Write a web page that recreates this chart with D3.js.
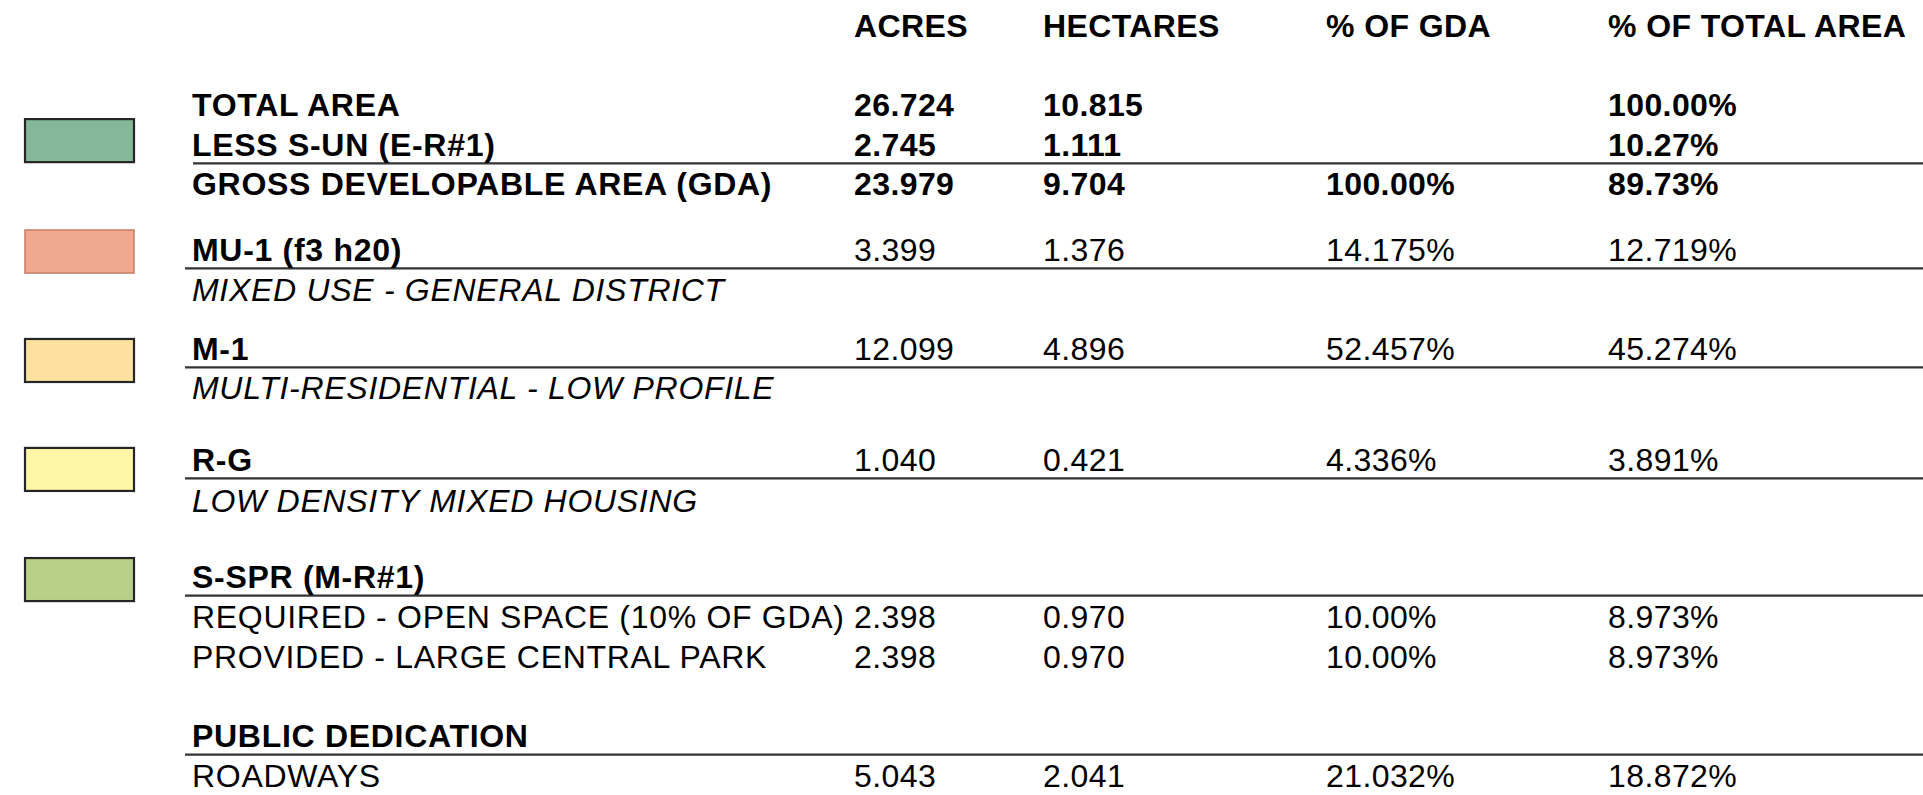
<!DOCTYPE html>
<html>
<head>
<meta charset="utf-8">
<script src="https://cdn.jsdelivr.net/npm/d3@7"></script>
<style>
  body { margin: 0; background: #fff; }
  svg text { font-family: "Liberation Sans", Arial, sans-serif; font-size: 32px; letter-spacing: 0.4px; fill: #000; }
  svg text.label { letter-spacing: 0.7px; }
</style>
</head>
<body>
<div id="table"></div>
<script>
// column headers
var headers = ["ACRES", "HECTARES", "% OF GDA", "% OF TOTAL AREA"];

// table rows
var labels = ["TOTAL AREA", "LESS S-UN (E-R#1)", "GROSS DEVELOPABLE AREA (GDA)",
  "MU-1 (f3 h20)", "MIXED USE - GENERAL DISTRICT",
  "M-1", "MULTI-RESIDENTIAL - LOW PROFILE",
  "R-G", "LOW DENSITY MIXED HOUSING",
  "S-SPR (M-R#1)", "REQUIRED - OPEN SPACE (10% OF GDA)", "PROVIDED - LARGE CENTRAL PARK",
  "PUBLIC DEDICATION", "ROADWAYS"];
var rowKind = ["total", "total", "total", "zone", "desc", "zone", "desc", "zone", "desc",
  "zone", "item", "item", "zone", "item"];
var acres = ["26.724", "2.745", "23.979", "3.399", "", "12.099", "", "1.040", "", "", "2.398", "2.398", "", "5.043"];
var hectares = ["10.815", "1.111", "9.704", "1.376", "", "4.896", "", "0.421", "", "", "0.970", "0.970", "", "2.041"];
var pctGda = ["", "", "100.00%", "14.175%", "", "52.457%", "", "4.336%", "", "", "10.00%", "10.00%", "", "21.032%"];
var pctTotal = ["100.00%", "10.27%", "89.73%", "12.719%", "", "45.274%", "", "3.891%", "", "", "8.973%", "8.973%", "", "18.872%"];

// legend swatches (zone colours)
var zoneColors = ["#84b899", "#f0a88f", "#fde19e", "#fff6a8", "#b8d186"];
var zoneStroke = ["#262626", "#c9826b", "#262626", "#262626", "#262626"];

// layout, in text-line units
var rowLine = [2, 3.01, 4, 5.67, 6.69, 8.18, 9.18, 10.99, 12.03, 13.96, 14.97, 15.99, 17.99, 19];
var ruleAfter = [1, 3, 5, 7, 9, 12];
var swatchLine = [2.08, 4.89, 7.65, 10.41, 13.2];

const w = 1923;
const h = 795;

var y = d3.scaleLinear().domain([0, 19]).range([37, 787]);
var colX = d3.scaleOrdinal().domain(headers).range([854, 1043, 1326, 1608]);
var labelX = 192;

var svg = d3.select("#table").append("svg")
  .attr("width", w)
  .attr("height", h);

// header
svg.append("g").selectAll("text").data(headers).enter().append("text")
  .attr("x", d => colX(d))
  .attr("y", y(0))
  .attr("font-weight", "bold")
  .text(d => d);

// rules under some rows
svg.append("g").selectAll("line").data(ruleAfter).enter().append("line")
  .attr("x1", d => rowKind[d] == "total" ? 193 : 185)
  .attr("x2", w)
  .attr("y1", d => y(rowLine[d]) + 7.5)
  .attr("y2", d => y(rowLine[d]) + 7.5)
  .attr("stroke", "#333")
  .attr("stroke-width", 2.2);

// swatches
svg.append("g").selectAll("rect").data(zoneColors).enter().append("rect")
  .attr("x", 25)
  .attr("y", (d, i) => y(swatchLine[i]))
  .attr("width", 109)
  .attr("height", y(1.09) - y(0))
  .attr("fill", d => d)
  .attr("stroke", (d, i) => zoneStroke[i])
  .attr("stroke-width", (d, i) => i == 1 ? 1.6 : 2.2);

// labels
var rows = svg.append("g").selectAll("g").data(labels).enter().append("g")
  .attr("transform", (d, i) => "translate(0," + y(rowLine[i]) + ")");

rows.append("text")
  .attr("class", "label")
  .attr("x", labelX)
  .attr("font-weight", (d, i) => (rowKind[i] == "total" || rowKind[i] == "zone") ? "bold" : "normal")
  .attr("font-style", (d, i) => rowKind[i] == "desc" ? "italic" : "normal")
  .text(d => d);

// values
var columns = [acres, hectares, pctGda, pctTotal];
rows.each(function (d, i) {
  var g = d3.select(this);
  columns.forEach(function (col, c) {
    if (!col[i]) return;
    g.append("text")
      .attr("x", colX(headers[c]))
      .attr("font-weight", rowKind[i] == "total" ? "bold" : "normal")
      .text(col[i]);
  });
});
</script>
</body>
</html>
